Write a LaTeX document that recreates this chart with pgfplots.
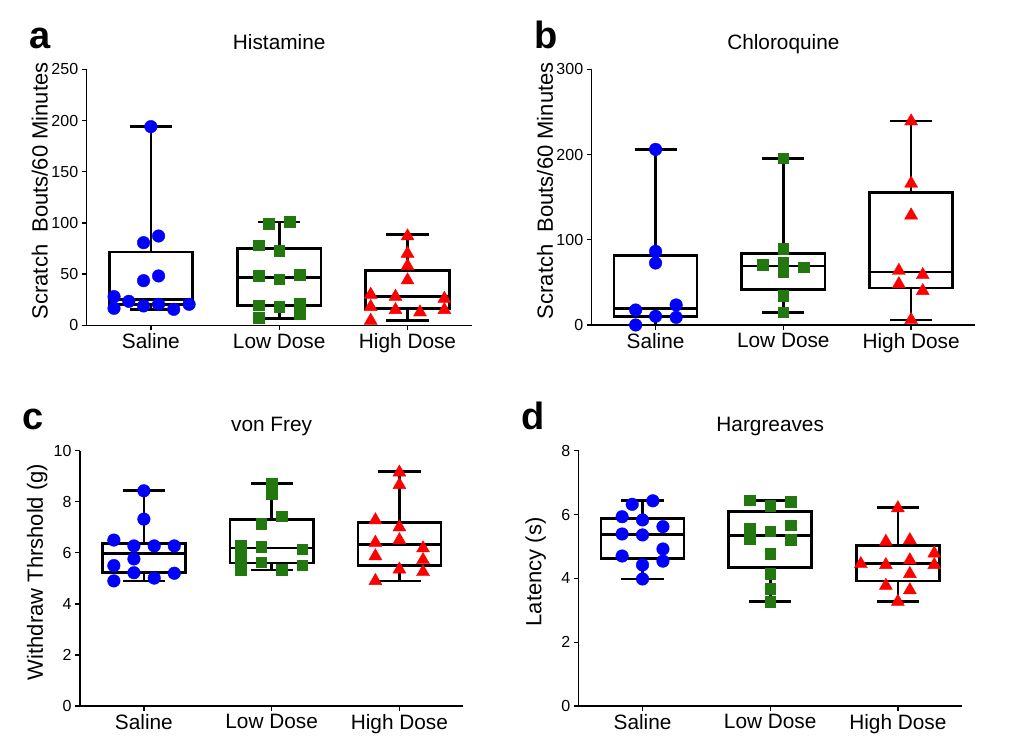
\documentclass[border=0pt]{standalone}
\usepackage{fontspec}
\setmainfont{Liberation Sans}
\usepackage{pgfplots}
\pgfplotsset{compat=1.18}

\definecolor{ptblue}{RGB}{0,0,255}
\definecolor{ptgreen}{RGB}{34,120,15}
\definecolor{ptred}{RGB}{255,0,0}

\pgfplotsset{
  panel/.style={
    scale only axis, anchor=south west,
    axis x line=bottom, axis y line=left,
    axis line style={-, line width=1.3pt},
    xmin=-0.5, xmax=2.5, ymin=0,
    xtick={0,1,2}, xticklabels={Saline,Low Dose,High Dose},
    tick align=outside, major tick length=5pt,
    every tick/.style={black, line width=1.3pt},
    yticklabel style={font=\fontsize{16}{18}\selectfont},
    xticklabel style={font=\fontsize{20.8}{22}\selectfont},
    ylabel style={font=\fontsize{22}{24}\selectfont, at={(axis description cs:#1,0.525)}, anchor=center},
    /pgf/number format/assume math mode=true,
    clip=false,
  },
  panel/.default=-0.112,
  bx/.style={black, line width=2.7pt, solid, mark=none},
  sal/.style={only marks, mark=*, color=ptblue, mark size=6.3pt},
  low/.style={only marks, mark=square*, color=ptgreen, mark size=5.3pt},
  hig/.style={only marks, mark=triangle*, color=ptred, mark size=7.5pt},
}
% box: left, right, centre, cap left, cap right, lower whisker, Q1, median, Q3, upper whisker
\newcommand{\bxp}[9]{\def\bxa{#1}\def\bxb{#2}\def\bxc{#3}\def\bxd{#4}\def\bxe{#5}\def\bxf{#6}\def\bxg{#7}\def\bxh{#8}\def\bxi{#9}\bxpC}
\newcommand{\bxpC}[1]{%
  \addplot[bx, line cap=rect] coordinates {(\bxa,\bxg) (\bxb,\bxg) (\bxb,\bxi) (\bxa,\bxi) (\bxa,\bxg)};
  \addplot[bx] coordinates {(\bxa,\bxh) (\bxb,\bxh)};
  \addplot[bx] coordinates {(\bxc,\bxi) (\bxc,#1)};
  \addplot[bx] coordinates {(\bxd,#1) (\bxe,#1)};
  \addplot[bx] coordinates {(\bxc,\bxg) (\bxc,\bxf)};
  \addplot[bx] coordinates {(\bxd,\bxf) (\bxe,\bxf)};}
\newcommand{\paneltitle}[2]{%
  \node[anchor=base, font=\fontsize{20.8}{22}\selectfont] at (rel axis cs:0.5,1) [yshift=19.5pt] {#1};
  \node[anchor=base west, font=\bfseries\fontsize{38}{40}\selectfont] at (rel axis cs:0,1) [xshift=-61pt, yshift=21pt] {#2};}

\begin{document}
\begin{tikzpicture}
\useasboundingbox (0,0) rectangle (1029pt,753pt);

% a: Histamine
\begin{axis}[panel=-0.122, at={(86.7pt,427.7pt)}, width=385pt, height=256pt,
  ymax=250, ytick={0,50,...,250}, ylabel={Scratch~~Bouts/60 Minutes}]
\bxp{-0.325}{0.325}{0}{-0.165}{0.165}{15.6}{20.5}{25.4}{71.6}{194}
\bxp{0.675}{1.325}{1}{0.835}{1.165}{6.8}{19.5}{46.9}{74.9}{100.9}
\bxp{1.675}{2.325}{2}{1.835}{2.165}{4.6}{16.3}{28}{53.7}{88.9}
\addplot[sal] coordinates {(0,194) (-0.057,80.7) (0.06,87.2) (-0.057,43.6) (0.06,48.2) (-0.287,28) (-0.172,23.4) (-0.287,16.6) (-0.057,18.9) (0.06,20.5) (0.178,15.6) (0.298,20.5)};
\addplot[low] coordinates {(0.92,99) (1.08,101) (0.84,78.1) (1.0,72.9) (0.84,48.5) (1.0,44.9) (1.16,49.2) (0.84,19.5) (1.0,17.9) (1.16,21.5) (1.16,11) (0.84,7.5)};
\addplot[hig] coordinates {(2,87) (2,70) (2,58) (2,44) (1.713,30) (1.906,28) (2.287,26) (1.713,18) (1.906,15) (2.097,12.7) (2.287,15) (1.713,4.6)};
\paneltitle{Histamine}{a}
\end{axis}

% b: Chloroquine
\begin{axis}[panel=-0.122, at={(591.7pt,428pt)}, width=383.3pt, height=255.7pt,
  ymax=300, ytick={0,100,200,300}, ylabel={Scratch~~Bouts/60 Minutes}]
\bxp{-0.325}{0.325}{0}{-0.165}{0.165}{0}{10.2}{19.6}{81.3}{206}
\bxp{0.675}{1.325}{1}{0.835}{1.165}{14.9}{41.8}{69.2}{84}{195.5}
\bxp{1.675}{2.325}{2}{1.835}{2.165}{5.9}{43.4}{62.2}{155.7}{239.3}
\addplot[sal] coordinates {(0,206) (0,86.4) (0,72.7) (-0.156,17.6) (0.161,23.5) (0,10.2) (0.161,9) (-0.156,0)};
\addplot[low] coordinates {(1,195.5) (1,89.2) (0.839,70.4) (1,73.5) (1,61.8) (1.159,67.7) (1,34.4) (1,14.9)};
\addplot[hig] coordinates {(2,239) (2,166) (2,128.7) (1.904,63.7) (2.091,58.7) (1.904,48) (2.091,40) (2,5.9)};
\paneltitle{Chloroquine}{b}
\end{axis}

% c: von Frey
\begin{axis}[panel, at={(80pt,47pt)}, width=383.3pt, height=255.3pt,
  ymax=10, ytick={0,2,...,10}, ylabel={Withdraw Thrshold (g)}]
\bxp{-0.325}{0.325}{0}{-0.165}{0.165}{4.9}{5.22}{5.98}{6.37}{8.43}
\bxp{0.675}{1.325}{1}{0.835}{1.165}{5.33}{5.6}{6.19}{7.31}{8.72}
\bxp{1.675}{2.325}{2}{1.835}{2.165}{4.9}{5.5}{6.32}{7.19}{9.19}
\addplot[sal] coordinates {(0,8.43) (0,7.32) (-0.235,6.5) (-0.078,6.27) (0.081,6.27) (0.238,6.27) (-0.078,5.76) (-0.235,5.5) (-0.078,5.22) (0.238,5.2) (0.081,5.01) (-0.235,4.9)};
\addplot[low] coordinates {(1,8.72) (1,8.3) (1.078,7.44) (0.919,7.15) (0.757,6.3) (0.919,6.24) (1.24,6.14) (0.757,5.98) (0.757,5.66) (0.919,5.64) (1.24,5.52) (0.757,5.33) (1.078,5.35)};
\addplot[hig] coordinates {(2,9.15) (2,8.66) (1.812,7.28) (2,7.0) (1.812,6.4) (2,6.5) (2.185,6.18) (1.812,5.87) (2.185,5.72) (2,5.35) (2.185,5.25) (1.812,4.9)};
\paneltitle{von Frey}{c}
\end{axis}

% d: Hargreaves
\begin{axis}[panel, at={(578.7pt,47pt)}, width=383pt, height=255.3pt,
  ymax=8, ytick={0,2,...,8}, ylabel={Latency (s)}]
\bxp{-0.325}{0.325}{0}{-0.165}{0.165}{3.98}{4.62}{5.38}{5.87}{6.43}
\bxp{0.675}{1.325}{1}{0.835}{1.165}{3.27}{4.34}{5.35}{6.1}{6.45}
\bxp{1.675}{2.325}{2}{1.835}{2.165}{3.27}{3.92}{4.47}{5.04}{6.22}
\addplot[sal] coordinates {(0.081,6.43) (-0.081,6.32) (-0.16,5.93) (0,5.83) (0.16,5.62) (-0.16,5.39) (0,5.36) (0.16,4.92) (-0.16,4.7) (0.16,4.54) (0,4.42) (0,3.98)};
\addplot[low] coordinates {(0.84,6.45) (1.16,6.4) (1,6.27) (1.16,5.67) (0.84,5.57) (1,5.48) (0.84,5.25) (1.16,5.22) (1,4.78) (1,4.14) (1,3.68) (1,3.27)};
\addplot[hig] coordinates {(2,6.2) (1.906,5.15) (2.094,5.2) (2.285,4.78) (1.71,4.45) (1.906,4.42) (2.094,4.57) (2.285,4.42) (2.094,4.14) (1.906,3.77) (2.094,3.63) (2,3.27)};
\paneltitle{Hargreaves}{d}
\end{axis}
\end{tikzpicture}
\end{document}
